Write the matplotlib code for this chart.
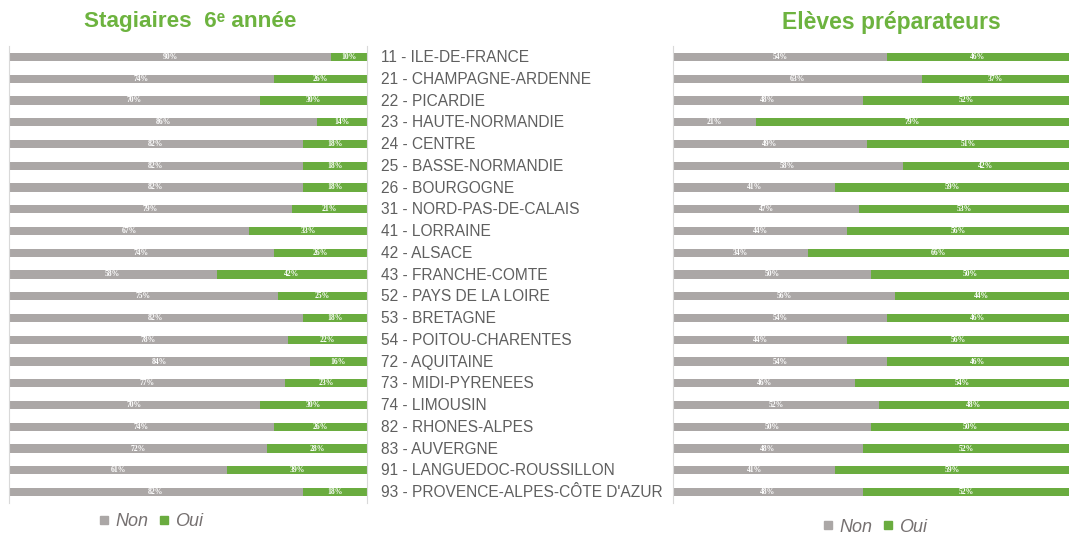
import matplotlib
matplotlib.use("Agg")
import matplotlib.pyplot as plt
from matplotlib.lines import Line2D

regions = ["11 - ILE-DE-FRANCE", "21 - CHAMPAGNE-ARDENNE", "22 - PICARDIE",
           "23 - HAUTE-NORMANDIE", "24 - CENTRE", "25 - BASSE-NORMANDIE",
           "26 - BOURGOGNE", "31 - NORD-PAS-DE-CALAIS", "41 - LORRAINE",
           "42 - ALSACE", "43 - FRANCHE-COMTE", "52 - PAYS DE LA LOIRE",
           "53 - BRETAGNE", "54 - POITOU-CHARENTES", "72 - AQUITAINE",
           "73 - MIDI-PYRENEES", "74 - LIMOUSIN", "82 - RHONES-ALPES",
           "83 - AUVERGNE", "91 - LANGUEDOC-ROUSSILLON",
           "93 - PROVENCE-ALPES-CÔTE D'AZUR"]

stag_non = [90, 74, 70, 86, 82, 82, 82, 79, 67, 74, 58, 75, 82, 78, 84, 77, 70, 74, 72, 61, 82]
stag_oui = [10, 26, 30, 14, 18, 18, 18, 21, 33, 26, 42, 25, 18, 22, 16, 23, 30, 26, 28, 39, 18]

prep_non = [54, 63, 48, 21, 49, 58, 41, 47, 44, 34, 50, 56, 54, 44, 54, 46, 52, 50, 48, 41, 48]
prep_oui = [46, 37, 52, 79, 51, 42, 59, 53, 56, 66, 50, 44, 46, 56, 46, 54, 48, 50, 52, 59, 52]

GRAY = "#aba7a6"
GREEN = "#6aac3f"
TITLE_GREEN = "#6db33f"
TEXT = "#5f5f5f"
FONT = ["Liberation Sans", "DejaVu Sans"]

plt.rcParams['font.family'] = FONT

fig = plt.figure(figsize=(10.7, 5.34), dpi=100)
ax1 = fig.add_axes([9 / 1070, 1 - 503 / 534, 358 / 1070, 457 / 534])
ax2 = fig.add_axes([673 / 1070, 1 - 503 / 534, 396 / 1070, 457 / 534])

def draw(ax, non, oui):
    y = list(range(len(non)))
    b1 = ax.barh(y, non, height=0.38, color=GRAY)
    b2 = ax.barh(y, oui, left=non, height=0.38, color=GREEN)
    for bars, vals in ((b1, non), (b2, oui)):
        for r, v in zip(bars, vals):
            ax.text(r.get_x() + r.get_width() / 2, r.get_y() + r.get_height() / 2,
                    f"{v}%", color="white", fontsize=5.5, ha="center", va="center",
                    family=["Liberation Serif"], fontweight="bold")
    ax.set_xlim(0, 100)
    ax.set_ylim(len(non) - 0.5, -0.5)
    ax.set_xticks([])
    ax.set_yticks([])
    for s in ax.spines.values():
        s.set_visible(False)
    ax.spines["left"].set_visible(True)
    ax.spines["left"].set_color("#d9d9d9")

draw(ax1, stag_non, stag_oui)
draw(ax2, prep_non, prep_oui)
ax1.spines["right"].set_visible(True)
ax1.spines["right"].set_color("#d9d9d9")

# region names between the two panels
for i, name in enumerate(regions):
    y = 1 - (57.5 + i * 21.76) / 534
    fig.text(381 / 1070, y, name, fontsize=11.2, color=TEXT, ha="left", va="center")

fig.text(190 / 1070, 1 - 22 / 534, "Stagiaires  6ᵉ année", fontsize=16.2,
         fontweight="bold", color=TITLE_GREEN, ha="center", va="center")
fig.text(891 / 1070, 1 - 22 / 534, "Elèves préparateurs", fontsize=16.5,
         fontweight="bold", color=TITLE_GREEN, ha="center", va="center")

handles = [Line2D([], [], marker="s", linestyle="", color=GRAY, markersize=5.5),
           Line2D([], [], marker="s", linestyle="", color=GREEN, markersize=5.5)]
for x, y in ((151, 522), (875, 527)):
    fig.legend(handles, ["Non", "Oui"], loc="center", bbox_to_anchor=(x / 1070, 1 - y / 534),
               ncol=2, frameon=False, handlelength=0.6, handletextpad=0.3,
               columnspacing=0.6, prop={"style": "italic", "size": 13},
               labelcolor="#767171")

fig.savefig("out.png", dpi=100)
